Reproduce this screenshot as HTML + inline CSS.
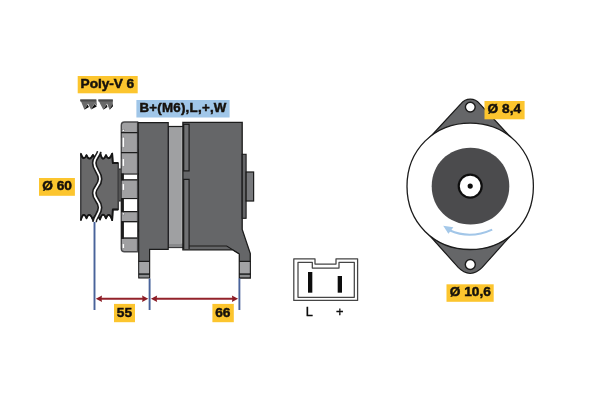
<!DOCTYPE html>
<html>
<head>
<meta charset="utf-8">
<title>Alternator</title>
<style>
html,body{margin:0;padding:0;background:#fff;}
body{width:600px;height:400px;overflow:hidden;position:relative;}
svg{position:absolute;left:0;top:0;display:block;}
text{font-family:"Liberation Sans",sans-serif;font-weight:bold;fill:#15120c;}
.lbl{font-size:13.7px;stroke:#15120c;stroke-width:0.5px;}
.sm{font-family:"Liberation Sans",sans-serif;font-weight:normal;font-size:12.8px;fill:#111;stroke:#111;stroke-width:0.35px;}
</style>
</head>
<body>
<svg width="600" height="400" viewBox="0 0 600 400">
<defs><filter id="soft" x="0" y="0" width="600" height="400" filterUnits="userSpaceOnUse"><feGaussianBlur stdDeviation="0.55"/></filter></defs>
<rect width="600" height="400" fill="#ffffff"/>
<g filter="url(#soft)">


<!-- belt icons -->
<g id="belt">
<path d="M80.2 99.5 H96.3 L97 106 L94.5 103.5 L91 109.6 L88 103.5 L84.4 109.7 Z" fill="#6a6a6a"/>
<path d="M98.3 99.5 H112.8 V106 L109.6 109.7 L107 103.5 L103.3 109.7 L100 103.5 Z" fill="#6a6a6a"/>
<path d="M84.4 109.7 L87.5 104.5 L89 107 Z M91 109.6 L94.5 104 L96.8 106.5 Z M103.3 109.7 L106.5 104.5 L107.5 107 Z M109.6 109.7 L112.8 104 V106.5 Z" fill="#111"/>
<rect x="80.2" y="99.5" width="16.1" height="2" fill="#4a4a4a"/>
<rect x="98.3" y="99.5" width="14.5" height="2" fill="#4a4a4a"/>
</g>

<!-- side view -->
<g id="side" stroke-linejoin="miter">
<!-- shaft -->
<rect x="118" y="169" width="3.5" height="32" fill="#555" stroke="#1a1a1a" stroke-width="1"/>
<!-- pulley -->
<path d="M80.8 153.6 Q83.5 162 86.5 155.2 Q89.2 162 93 155 Q96 161 100.3 153.5 Q102.7 163 106 155.2 Q109 162 112.2 153.6 L112.8 163 H118.2 V209.5 H112.8 L112.2 220.2 Q109 210.5 106 218.3 Q102.7 210.5 100 219.5 Q96 211 93 220 Q89.2 210.5 86.5 218.3 Q83.5 210.5 80.8 220.2 Z" fill="#676769" stroke="#404042" stroke-width="1.6" stroke-linejoin="round"/>
<path d="M80.8 153.6 Q83.5 162 86.5 155.2 Q89.2 162 93 155 Q96 161 100.3 153.5 Q102.7 163 106 155.2 Q109 162 112.2 153.6 L112.8 163 H118.2 M118.2 209.5 H112.8 L112.2 220.2 Q109 210.5 106 218.3 Q102.7 210.5 100 219.5 Q96 211 93 220 Q89.2 210.5 86.5 218.3 Q83.5 210.5 80.8 220.2" fill="none" stroke="#161616" stroke-width="1.8" stroke-linejoin="round"/>
<path d="M99.3 151.5 C98 157 94.3 158 94.3 163 C94.3 170 100 172 100 179 C100 186 94.3 187 94.3 193 C94.3 200 100 201 100 207.5 C100 214 95 216 94.5 222" fill="none" stroke="#1a1a1a" stroke-width="5"/>
<path d="M99.5 150.5 C98 157 94.3 158 94.3 163 C94.3 170 100 172 100 179 C100 186 94.3 187 94.3 193 C94.3 200 100 201 100 207.5 C100 214 95 216 94.4 223" fill="none" stroke="#fff" stroke-width="1.8"/>
<!-- fan -->
<path d="M124.5 122 H137.6 V251.7 H124.5 Q121.3 251.7 121.3 248.5 V125.2 Q121.3 122 124.5 122 Z" fill="#a0a0a2" stroke="#4a4a4c" stroke-width="1.4"/>
<g fill="#fff">
<rect x="123.4" y="174.6" width="13.6" height="4.6"/>
<rect x="123.4" y="199.3" width="13.6" height="11.7"/>
<rect x="123.4" y="222.3" width="13.6" height="15"/>
</g>
<g fill="#fff" stroke="#77777a" stroke-width="0.6">
<rect x="122.2" y="129.3" width="2.2" height="2"/>
<rect x="122.2" y="137.2" width="2.4" height="10.2" rx="0.8"/>
<rect x="122.2" y="158.6" width="2.4" height="7.8" rx="0.8"/>
<rect x="122.2" y="183.6" width="2.4" height="6.8" rx="0.8"/>
<rect x="122.2" y="212.9" width="2.2" height="2"/>
<rect x="122.2" y="243.6" width="2.4" height="4.9" rx="0.8"/>
</g>
<path d="M122.5 173.6 V180.3 M122.5 198 V212 M122.5 221.2 V238.8" stroke="#1a1a1a" stroke-width="2.8" fill="none"/>
<path d="M121 132.6 H137.6 M121 152.6 H137.6 M121 174 H137.6 M121 179.9 H137.6 M121 198.5 H137.6 M121 211.6 H137.6 M121 221.6 H137.6 M121 238.2 H137.6" stroke="#1a1a1a" stroke-width="1.2" fill="none"/>
<!-- light strip -->
<rect x="168" y="126.5" width="15.5" height="121" fill="#9fa0a2" stroke="#1a1a1a" stroke-width="1.2"/>
<rect x="168.6" y="244" width="14" height="3.3" fill="#88898b"/>
<rect x="181.3" y="127.2" width="1.6" height="116" fill="#b4b4b4"/>
<!-- body block 1 -->
<path d="M138.2 122.6 H168.2 V249.3 H149.6 V278 H138.8 Z" fill="#656668" stroke="#1a1a1a" stroke-width="1.2"/>
<rect x="139.3" y="261.8" width="9.8" height="11.6" fill="#a2a3a5"/>
<rect x="139.3" y="274.6" width="9.8" height="2.6" fill="#8a8b8d"/>
<path d="M138.8 261.4 H149.6 M138.8 274.1 H149.6" stroke="#1a1a1a" stroke-width="1.4"/>
<!-- body block 2 -->
<path d="M182.9 122.4 H242.2 V229.5 L250.3 253.5 V278 H239.3 V254 L232.5 249.8 H182.9 Z" fill="#656668" stroke="#1a1a1a" stroke-width="1.3"/>
<path d="M189.2 246 H226.7 L239 253.6" stroke="#1a1a1a" stroke-width="1.1" fill="none"/>
<rect x="183.7" y="124.3" width="5.4" height="46.6" fill="#707173" stroke="#1a1a1a" stroke-width="1.2"/>
<path d="M183.7 249 V179.3 H189.1 V249" fill="#707173" stroke="#1a1a1a" stroke-width="1.2"/>
<rect x="239.9" y="261.8" width="9.8" height="11.6" fill="#a2a3a5"/>
<rect x="239.9" y="274.6" width="9.8" height="2.6" fill="#8a8b8d"/>
<path d="M239.3 261.4 H250.3 M239.3 274.1 H250.3" stroke="#1a1a1a" stroke-width="1.4"/>
<!-- rear steps -->
<rect x="242.2" y="154.3" width="3.9" height="64" fill="#656668" stroke="#1a1a1a" stroke-width="1.1"/>
<rect x="246.1" y="172" width="7.5" height="29" fill="#78797b" stroke="#1a1a1a" stroke-width="1.2"/>
</g>

<!-- dimensions -->
<g id="dims">
<path d="M94.5 222 V310 M149.6 278.5 V310 M239.4 278.5 V310" stroke="#48639a" stroke-width="1.9" fill="none"/>
<path d="M99 298.8 H145 M154 298.8 H235" stroke="#93232b" stroke-width="1.9" fill="none"/>
<path d="M95.8 298.8 l6.2 -3.3 l-0.5 3.3 l0.5 3.3 Z M148.3 298.8 l-6.2 -3.3 l0.5 3.3 l-0.5 3.3 Z M150.9 298.8 l6.2 -3.3 l-0.5 3.3 l0.5 3.3 Z M238.1 298.8 l-6.2 -3.3 l0.5 3.3 l-0.5 3.3 Z" fill="#8c1f28"/>
</g>

<!-- connector -->
<g id="conn" fill="none" stroke="#444" stroke-width="1.25" stroke-linejoin="round">
<path d="M293.8 258.8 H315 V264 H336 V258.8 H357.6 V300.4 H293.8 Z"/>
<path d="M298 262.3 H312.3 V268 H339 V262.3 H354.3 V297.3 H298 Z"/>
<rect x="308" y="272" width="4.3" height="20.7" fill="#111" stroke="none"/>
<rect x="337.7" y="276" width="4.3" height="16.7" fill="#111" stroke="none"/>
</g>
<text class="sm" x="305.7" y="316">L</text>
<text class="sm" x="336" y="315.6">+</text>

<!-- front view -->
<g id="front">
<path d="M470.3 99.2 C466 99.2 463.3 100.9 460.8 103.8 L429.3 138 L511.3 138 L479.8 103.8 C477.3 100.9 474.6 99.2 470.3 99.2 Z" fill="#656668" stroke="#1a1a1a" stroke-width="1.2"/>
<path d="M426.5 232 L458.2 267.4 Q463.6 273 470.2 273.5 Q476.8 273 482.2 267.4 L513.9 232 Z" fill="#656668" stroke="#1a1a1a" stroke-width="1.2"/>
<path d="M533.40 186.30 C533.40 222.45 506.35 249.50 470.20 249.50 C434.05 249.50 407.00 222.45 407.00 186.30 C407.00 150.15 434.05 123.10 470.20 123.10 C506.35 123.10 533.40 150.15 533.40 186.30 Z" fill="#fff" stroke="#1a1a1a" stroke-width="1.3"/>
<path d="M509.30 186.15 C509.30 207.90 492.31 224.45 470.50 224.45 C448.69 224.45 431.70 207.90 431.70 186.15 C431.70 164.40 448.69 147.85 470.50 147.85 C492.31 147.85 509.30 164.40 509.30 186.15 Z" fill="#4b4b4d"/>
<circle cx="470.2" cy="186.1" r="11.5" fill="#fff" stroke="#111" stroke-width="2.2"/>
<circle cx="470.2" cy="186.1" r="2.6" fill="#111"/>
<circle cx="470.3" cy="107.1" r="4.9" fill="#fff" stroke="#1a1a1a" stroke-width="1.4"/>
<circle cx="470.3" cy="264.5" r="5" fill="#fff" stroke="#1a1a1a" stroke-width="1.4"/>
<path d="M492.2 229.6 Q470 239.5 449.5 230.3" fill="none" stroke="#a2c6e8" stroke-width="2.1"/>
<path d="M443.2 225.7 L453.4 227.3 L448.4 233.7 Z" fill="#a4c8e9"/>
</g>
<!-- labels -->
<g id="labels">
<rect x="77.7" y="76" width="60" height="17.3" fill="#fcc52e"/>
<text class="lbl" x="80.6" y="87.8" textLength="53.6" lengthAdjust="spacing">Poly-V 6</text>
<rect x="136.4" y="100" width="93.2" height="17.5" fill="#a0c6e8"/>
<text class="lbl" x="139.4" y="111.8" style="font-size:13.3px" textLength="87" lengthAdjust="spacing">B+(M6),L,+,W</text>
<rect x="39" y="178" width="35.9" height="17.8" fill="#fcc52e"/>
<text class="lbl" x="42.2" y="189.7">Ø 60</text>
<rect x="114" y="303.9" width="21" height="18.3" fill="#fcc52e"/>
<text class="lbl" x="116.8" y="316.7">55</text>
<rect x="212.4" y="303.9" width="21.4" height="18.3" fill="#fcc52e"/>
<text class="lbl" x="215.2" y="316.7">66</text>
<rect x="484.5" y="101" width="40.1" height="18.3" fill="#fcc52e"/>
<text class="lbl" x="487.6" y="113.4">Ø 8,4</text>
<rect x="446.5" y="284.3" width="47.2" height="17.5" fill="#fcc52e"/>
<text class="lbl" x="449.8" y="296.4">Ø 10,6</text>
</g>
</g>
</svg>
</body>
</html>
